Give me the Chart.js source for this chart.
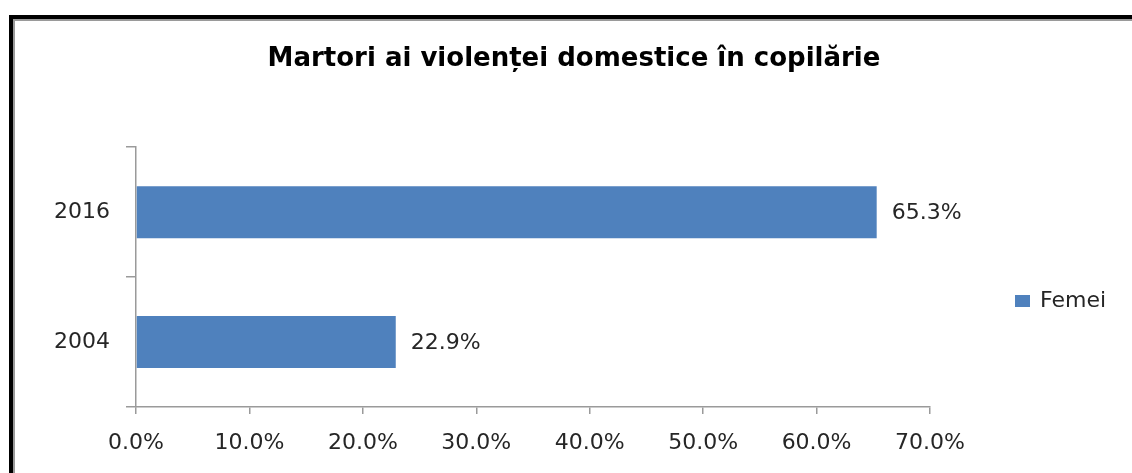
<!DOCTYPE html>
<html>
<head>
<meta charset="utf-8">
<script src="https://cdn.jsdelivr.net/npm/chart.js@4/dist/chart.umd.min.js"></script>
<style>
  html, body { margin: 0; padding: 0; background: #fff; }
  #wrap { width: 1132px; height: 473px; position: relative; }
</style>
</head>
<body>
<div id="wrap"><canvas id="chart" width="1132" height="473"></canvas></div>
<script>
// chart data
var chartTitle = 'Martori ai violenței domestice în copilărie';
var years = ['2016', '2004'];
var femei = [65.3, 22.9];
var seriesName = 'Femei';
var xMin = 0, xMax = 70, xStep = 10;

var barColor = '#4F81BD';
var axisColor = '#9a9a9a';
var textColor = '#262626';
var fontFamily = '"DejaVu Sans", Verdana, sans-serif';

// outer frame (black with a grey inner line, only top and left visible)
var framePlugin = {
    id: 'frame',
    beforeDraw: function(chart) {
        var ctx = chart.ctx;
        ctx.save();
        ctx.fillStyle = '#fff';
        ctx.fillRect(0, 0, chart.width, chart.height);
        ctx.fillStyle = '#000';
        ctx.fillRect(9, 15, chart.width - 9, 4);
        ctx.fillRect(9, 15, 4, chart.height - 15);
        ctx.fillStyle = '#9a9a9a';
        ctx.fillRect(13, 19, chart.width - 13, 2);
        ctx.fillRect(13, 19, 2, chart.height - 19);
        ctx.restore();
    }
};

// value labels at the end of each bar
var valueLabels = {
    id: 'valueLabels',
    afterDatasetsDraw: function(chart) {
        var ctx = chart.ctx;
        ctx.save();
        ctx.font = '22px ' + fontFamily;
        ctx.fillStyle = textColor;
        ctx.textAlign = 'left';
        ctx.textBaseline = 'middle';
        chart.data.datasets.forEach(function(ds, i) {
            chart.getDatasetMeta(i).data.forEach(function(bar, j) {
                ctx.fillText(ds.data[j].toFixed(1) + '%', bar.x + 15, bar.y + 1);
            });
        });
        ctx.restore();
    }
};

// legend drawn to the right of the plot, like the Excel original
var sideLegend = {
    id: 'sideLegend',
    afterDraw: function(chart) {
        var ctx = chart.ctx;
        var area = chart.chartArea;
        var x = area.right + 85;
        var y = area.bottom - 106;
        ctx.save();
        chart.data.datasets.forEach(function(ds) {
            ctx.fillStyle = ds.backgroundColor;
            ctx.fillRect(x, y - 6, 15, 12);
            ctx.font = '22px ' + fontFamily;
            ctx.fillStyle = textColor;
            ctx.textAlign = 'left';
            ctx.textBaseline = 'middle';
            ctx.fillText(ds.label, x + 25, y);
        });
        ctx.restore();
    }
};

new Chart(document.getElementById('chart'), {
    type: 'bar',
    data: {
        labels: years,
        datasets: [{
            label: seriesName,
            data: femei,
            backgroundColor: barColor,
            barPercentage: 0.4,
            categoryPercentage: 1.0
        }]
    },
    options: {
        indexAxis: 'y',
        responsive: false,
        animation: false,
        layout: { padding: { left: 16, right: 0, top: 0, bottom: 0 } },
        plugins: {
            legend: { display: false },
            tooltip: { enabled: false },
            title: {
                display: true,
                text: chartTitle,
                color: '#000',
                font: { family: fontFamily, size: 26, weight: 'bold' },
                padding: { top: 44, bottom: 72 }
            }
        },
        scales: {
            x: {
                type: 'linear',
                min: xMin,
                max: xMax,
                ticks: {
                    stepSize: xStep,
                    color: textColor,
                    padding: 16,
                    font: { family: fontFamily, size: 22 },
                    callback: function(v) { return v.toFixed(1) + '%'; }
                },
                grid: { drawOnChartArea: false, tickLength: 7, color: axisColor, lineWidth: 1.5 },
                border: { color: axisColor, width: 1.5 },
                afterFit: function(scale) { scale.height = 66; }
            },
            y: {
                ticks: {
                    color: textColor,
                    padding: 16,
                    font: { family: fontFamily, size: 22 }
                },
                grid: { drawOnChartArea: false, tickLength: 10, color: axisColor, lineWidth: 1.5 },
                border: { color: axisColor, width: 1.5 },
                afterFit: function(scale) { scale.width = 120; }
            },
            // empty axis that only keeps room for the legend on the right
            legendSpace: {
                type: 'linear',
                axis: 'y',
                position: 'right',
                display: true,
                grid: { display: false },
                ticks: { display: false },
                border: { display: false },
                afterFit: function(scale) { scale.width = 202; }
            }
        }
    },
    plugins: [framePlugin, valueLabels, sideLegend]
});
</script>
</body>
</html>
